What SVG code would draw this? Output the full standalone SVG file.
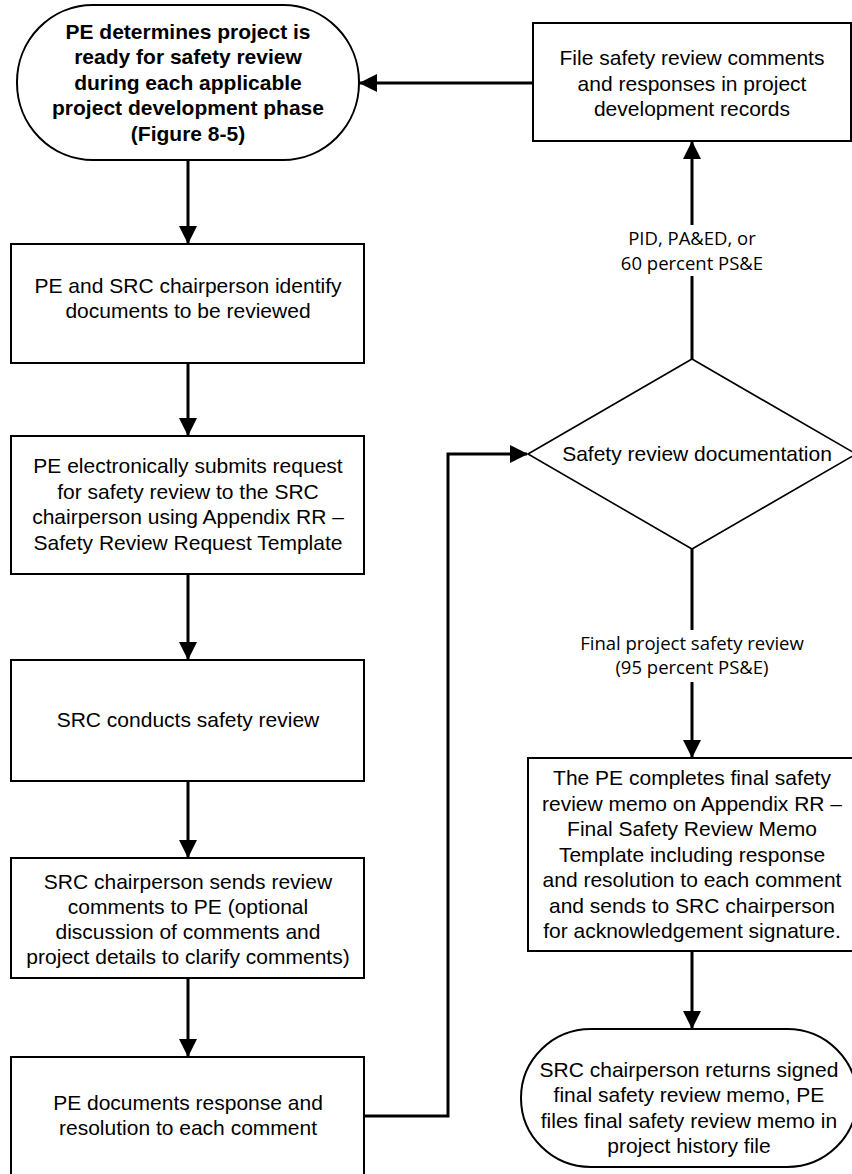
<svg xmlns="http://www.w3.org/2000/svg" width="852" height="1174" viewBox="0 0 852 1174">
<style>
.box{fill:#fff;stroke:#000;stroke-width:2}
.dia{fill:#fff;stroke:#000;stroke-width:1.6}
.t{font-family:"Liberation Sans",Arial,sans-serif;font-size:21px;fill:#000;text-anchor:middle}
.b{font-weight:bold}
.lbl{font-family:"Open Sans","Noto Sans",sans-serif;font-size:18.5px;fill:#000;text-anchor:middle}
.c{fill:none;stroke:#000;stroke-width:3}
</style>
<defs>
<marker id="ah" markerUnits="userSpaceOnUse" markerWidth="18" markerHeight="18" viewBox="0 0 18 18" refX="17" refY="9" orient="auto">
<polygon points="0,0 18,9 0,18" fill="#000"/>
</marker>
</defs>
<rect width="852" height="1174" fill="#fff"/>
<g id="connectors">
<path class="c" d="M188,160 V243" marker-end="url(#ah)"/>
<path class="c" d="M188,363 V435" marker-end="url(#ah)"/>
<path class="c" d="M188,574 V659" marker-end="url(#ah)"/>
<path class="c" d="M188,781 V857" marker-end="url(#ah)"/>
<path class="c" d="M188,978 V1056" marker-end="url(#ah)"/>
<path class="c" d="M364,1116 H448 V454 H527" marker-end="url(#ah)"/>
<path class="c" d="M692,359 V276"/>
<path class="c" d="M692,225 V142" marker-end="url(#ah)"/>
<path class="c" d="M692,549 V630"/>
<path class="c" d="M692,682 V757" marker-end="url(#ah)"/>
<path class="c" d="M692,951 V1028" marker-end="url(#ah)"/>
<path class="c" d="M533,83 H360" marker-end="url(#ah)"/>
<text class="lbl" x="692" y="245">PID, PA&amp;ED, or</text>
<text class="lbl" x="692" y="270">60 percent PS&amp;E</text>
<text class="lbl" x="692" y="650">Final project safety review</text>
<text class="lbl" x="692" y="674">(95 percent PS&amp;E)</text>
</g>
<g id="start">
<rect class="box" x="17" y="5" width="342" height="155" rx="76" ry="77"/>
<text class="t b" x="188" y="38.5">PE determines project is</text>
<text class="t b" x="188" y="64">ready for safety review</text>
<text class="t b" x="188" y="89.5">during each applicable</text>
<text class="t b" x="188" y="115">project development phase</text>
<text class="t b" x="188" y="140.5">(Figure 8-5)</text>
</g>
<g id="identify">
<rect class="box" x="11" y="244" width="353" height="119"/>
<text class="t" x="188" y="293">PE and SRC chairperson identify</text>
<text class="t" x="188" y="318">documents to be reviewed</text>
</g>
<g id="submit">
<rect class="box" x="11" y="436" width="353" height="138"/>
<text class="t" x="188" y="473">PE electronically submits request</text>
<text class="t" x="188" y="498.5">for safety review to the SRC</text>
<text class="t" x="188" y="524">chairperson using Appendix RR –</text>
<text class="t" x="188" y="549.5">Safety Review Request Template</text>
</g>
<g id="conduct">
<rect class="box" x="11" y="660" width="353" height="121"/>
<text class="t" x="188" y="727">SRC conducts safety review</text>
</g>
<g id="sends">
<rect class="box" x="11" y="858" width="353" height="120"/>
<text class="t" x="188" y="889">SRC chairperson sends review</text>
<text class="t" x="188" y="914">comments to PE (optional</text>
<text class="t" x="188" y="939">discussion of comments and</text>
<text class="t" x="188" y="964">project details to clarify comments)</text>
</g>
<g id="documents">
<rect class="box" x="11" y="1057" width="353" height="130"/>
<text class="t" x="188" y="1110">PE documents response and</text>
<text class="t" x="188" y="1135">resolution to each comment</text>
</g>
<g id="file">
<rect class="box" x="533" y="23" width="318" height="118"/>
<text class="t" x="692" y="65">File safety review comments</text>
<text class="t" x="692" y="90.5">and responses in project</text>
<text class="t" x="692" y="116">development records</text>
</g>
<g id="decision">
<polygon class="dia" points="528,454 692,359 856,454 692,549"/>
<text class="t" x="697" y="461">Safety review documentation</text>
</g>
<g id="memo">
<rect class="box" x="528" y="758" width="326" height="193"/>
<text class="t" x="692" y="785">The PE completes final safety</text>
<text class="t" x="692" y="810.5">review memo on Appendix RR –</text>
<text class="t" x="692" y="836">Final Safety Review Memo</text>
<text class="t" x="692" y="861.5">Template including response</text>
<text class="t" x="692" y="887">and resolution to each comment</text>
<text class="t" x="692" y="912.5">and sends to SRC chairperson</text>
<text class="t" x="692" y="938">for acknowledgement signature.</text>
</g>
<g id="end">
<rect class="box" x="521" y="1029" width="336" height="138" rx="70" ry="69"/>
<text class="t" x="689" y="1077">SRC chairperson returns signed</text>
<text class="t" x="689" y="1102">final safety review memo, PE</text>
<text class="t" x="689" y="1127.5">files final safety review memo in</text>
<text class="t" x="689" y="1153">project history file</text>
</g>
</svg>
